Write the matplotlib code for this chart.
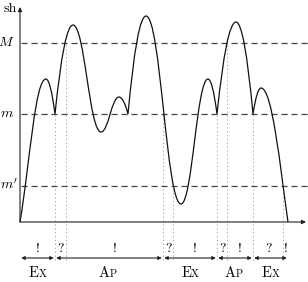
import matplotlib
matplotlib.use('Agg')
import matplotlib.pyplot as plt
from matplotlib.path import Path
from matplotlib.patches import PathPatch

plt.rcParams['mathtext.fontset'] = 'cm'
plt.rcParams['lines.scale_dashes'] = False

# ---- data -------------------------------------------------------------
# knots of the sketched curve (time, value) and their kind
knot_t = [0, 26, 35, 53, 81, 99, 108, 126, 161, 188, 197, 216, 233, 241, 268]
knot_v = [0, 143, 108, 197, 90, 125, 108, 206, 18, 143, 108, 200, 108, 134, 0]
knot_kind = ['start', 'max', 'cusp', 'max', 'min', 'max', 'cusp', 'max',
             'min', 'max', 'cusp', 'max', 'cusp', 'max', 'end']
start_slope = 6.0
end_slope = 7.0

levels = [179, 108, 36]
level_labels = [r'$M$', r'$m$', r"$m'$"]
level_label_x = [-5, -6, -2.5]

# times where the curve meets a level (dotted markers)
mark_t = [35, 46, 143, 153, 197, 207, 233, 263]
mark_level = [108, 179, 108, 36, 108, 179, 108, 36]
mark_symbols = ['!', '?', '!', '?', '!', '?', '!', '?', '!']

# phases
phase_bounds = [0, 35, 143, 197, 233, 268]
phase_labels = [('E', 'X'), ('A', 'P'), ('E', 'X'), ('A', 'P'), ('E', 'X')]

# ---- figure -----------------------------------------------------------
fig = plt.figure(figsize=(3.08, 2.82), dpi=100)
ax = fig.add_axes([0, 0, 1, 1])
ax.set_xlim(-20, 288)
ax.set_ylim(-60, 222)
ax.axis('off')

# curve
K = 0.42
verts = [(knot_t[0], knot_v[0])]
codes = [Path.MOVETO]
for i in range(len(knot_t) - 1):
    x0, y0, k0 = knot_t[i], knot_v[i], knot_kind[i]
    x1, y1, k1 = knot_t[i + 1], knot_v[i + 1], knot_kind[i + 1]
    dx, dy = x1 - x0, y1 - y0
    if k0 == 'cusp' or k1 == 'cusp':
        ye = y1 if k0 == 'cusp' else y0
        verts += [((x0 + x1) / 2, ye), (x1, y1)]
        codes += [Path.CURVE3] * 2
    else:
        if k0 == 'start':
            c1 = (x0 + K * abs(dy) / start_slope, y0 + K * dy)
        else:
            c1 = (x0 + K * dx, y0)
        if k1 == 'end':
            c2 = (x1 - K * abs(dy) / end_slope, y1 - K * dy)
        else:
            c2 = (x1 - K * dx, y1)
        verts += [c1, c2, (x1, y1)]
        codes += [Path.CURVE4] * 3
ax.add_patch(PathPatch(Path(verts, codes), fill=False, lw=0.9,
                       edgecolor='#111111', zorder=3))

# dashed levels
ax.hlines(levels, 1, 288, colors='#444444', lw=0.9,
          linestyles=[(0, (4.4, 2.8))])
for lv, lab, lx in zip(levels, level_labels, level_label_x):
    ax.text(lx, lv - 2.8, lab, ha='right', va='baseline', fontsize=10)

# dotted markers
ax.vlines(mark_t, -38, mark_level, colors='#9a9a9a', lw=0.7,
          linestyles=[(0, (0.8, 2.0))], zorder=1)

# axes
ax.annotate('', xy=(286, 0), xytext=(0, 0),
            arrowprops=dict(arrowstyle='-|>', lw=0.8, color='#222222',
                            mutation_scale=6, shrinkA=0, shrinkB=0))
ax.annotate('', xy=(0, 215), xytext=(0, 0),
            arrowprops=dict(arrowstyle='-|>', lw=0.8, color='#222222',
                            mutation_scale=6, shrinkA=0, shrinkB=0))
ax.text(-3, 210, 'sh', ha='right', va='baseline', fontsize=10,
        family='cmr10')

# symbols
bounds = [phase_bounds[0]] + mark_t + [phase_bounds[-1]]
for i, s in enumerate(mark_symbols):
    xc = (bounds[i] + bounds[i + 1]) / 2
    ax.text(xc, -30, s, ha='center', va='baseline', fontsize=10,
            family='cmr10')

# phase arrows and labels
for i, (big, small) in enumerate(phase_labels):
    a, b = phase_bounds[i], phase_bounds[i + 1]
    ax.annotate('', xy=(b - 1.2, -36), xytext=(a + 1.2, -36),
                arrowprops=dict(arrowstyle='<|-|>', lw=0.8, color='#222222',
                                mutation_scale=5, shrinkA=0, shrinkB=0))
    xc = (a + b) / 2
    ax.text(xc + 1.0, -55, big, ha='right', va='baseline', fontsize=10.5,
            family='cmr10')
    ax.text(xc + 1.0, -55, small, ha='left', va='baseline', fontsize=7.5,
            family='cmr10')

fig.savefig('out.png', dpi=100)
